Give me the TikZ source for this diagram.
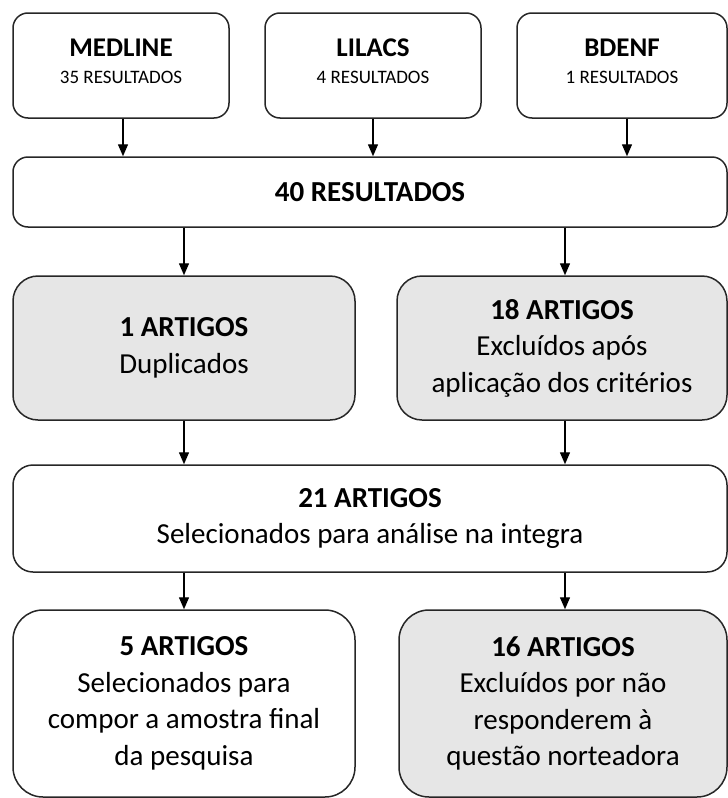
\documentclass[tikz,border=0pt]{standalone}
\usepackage{fontspec}
\setmainfont{Carlito}
\usetikzlibrary{arrows.meta}
\definecolor{boxgray}{HTML}{E6E6E6}
\definecolor{edge}{HTML}{262626}
\tikzset{
  box/.style={draw=edge, line width=1.5pt, rounded corners=#1, align=center, inner sep=0pt, font=\fontsize{29}{36.5}\selectfont},
  box/.default=15pt,
  graybox/.style={box=#1, fill=boxgray},
  graybox/.default=25pt,
  topbox/.style={box, minimum height=105, font=\fontsize{19}{27}\selectfont},
  arr/.style={draw=black, line width=1.4pt, -{Triangle[width=10pt,length=12pt]}},
}
\newcommand{\topname}[1]{{\fontsize{27}{27}\selectfont\bfseries #1}}
\begin{document}
\begin{tikzpicture}[x=1pt,y=-1pt]
\useasboundingbox (0,0) rectangle (728,798);
% top row
\node[topbox, minimum width=216] (med) at (121,65.5)
  {\topname{MEDLINE}\\35 RESULTADOS\rule[-9pt]{0pt}{9pt}};
\node[topbox, minimum width=216] (lil) at (373,65.5)
  {\topname{LILACS}\\4 RESULTADOS\rule[-9pt]{0pt}{9pt}};
\node[topbox, minimum width=210] (bde) at (622,65.5)
  {\topname{BDENF}\\1 RESULTADOS\rule[-9pt]{0pt}{9pt}};
% 40 resultados
\node[box, minimum width=714, minimum height=70] (res) at (370,192)
  {\bfseries 40 RESULTADOS};
% second row
\node[graybox=25pt, minimum width=342, minimum height=144] (dup) at (184,348)
  {\bfseries 1 ARTIGOS\\Duplicados};
\node[graybox=25pt, minimum width=330, minimum height=144] (exc) at (562,348)
  {\bfseries 18 ARTIGOS\\Excluídos após\\aplicação dos critérios};
% 21 artigos
\node[box=20pt, minimum width=714, minimum height=107] (sel) at (370,518.5)
  {\bfseries 21 ARTIGOS\\Selecionados para análise na integra};
% bottom row
\node[box=30pt, minimum width=342, minimum height=187] (fin) at (184,703.5)
  {\bfseries 5 ARTIGOS\\Selecionados para\\compor a amostra final\\da pesquisa};
\node[graybox=30pt, minimum width=328, minimum height=187] (exc2) at (563,703.5)
  {\bfseries 16 ARTIGOS\\Excluídos por não\\responderem à\\questão norteadora};
% arrows
\draw[arr] ([xshift=2pt]med.south) -- ([xshift=2pt]med.south |- res.north);
\draw[arr] (lil.south) -- (lil.south |- res.north);
\draw[arr] ([xshift=5pt]bde.south) -- ([xshift=5pt]bde.south |- res.north);
\draw[arr] (dup.north |- res.south) -- (dup.north);
\draw[arr] ([xshift=3pt]exc.north |- res.south) -- ([xshift=3pt]exc.north);
\draw[arr] (dup.south) -- (dup.south |- sel.north);
\draw[arr] ([xshift=3pt]exc.south) -- ([xshift=3pt]exc.south |- sel.north);
\draw[arr] (fin.north |- sel.south) -- (fin.north);
\draw[arr] ([xshift=2pt]exc2.north |- sel.south) -- ([xshift=2pt]exc2.north);
\end{tikzpicture}
\end{document}
